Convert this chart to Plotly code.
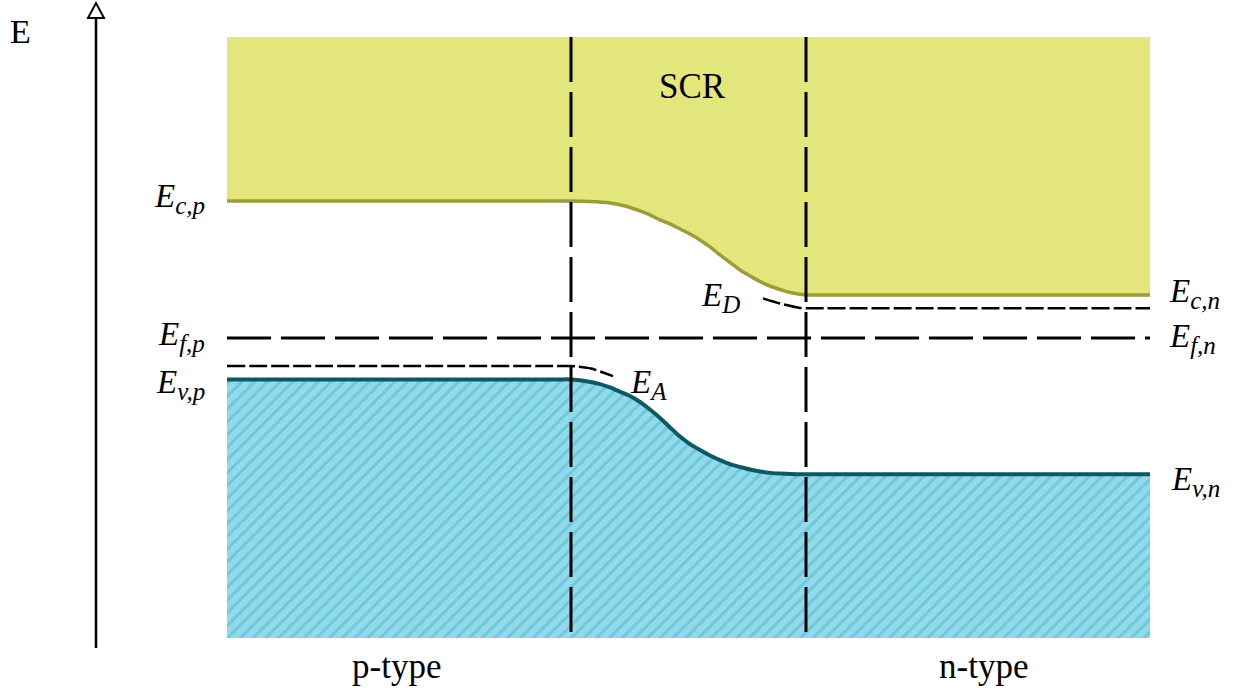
import plotly.graph_objects as go

# ---------------------------------------------------------------
# p-n junction band diagram
# position in nm from the p-side edge, energy in eV relative to E_F
# ---------------------------------------------------------------
x_p_edge, x_scr_p, x_scr_n, x_n_edge = 0.0, 344.0, 579.0, 923.0
E_top, E_bottom = 1.881, -1.875
E_fermi = 0.0

# conduction band edge (flat p side, bending through the SCR, flat n side)
ec_x = [0, 330, 344, 363, 383, 398, 413, 423, 433, 443, 453, 463, 473, 483, 493,
        503, 513, 523, 533, 543, 553, 563, 579, 593, 923]
ec_E = [0.856, 0.856, 0.856, 0.853, 0.844, 0.825, 0.794, 0.769, 0.738, 0.713, 0.681,
        0.650, 0.613, 0.569, 0.519, 0.472, 0.425, 0.388, 0.353, 0.325, 0.303,
        0.284, 0.269, 0.269, 0.269]

# valence band edge
ev_x = [0, 330, 344, 358, 373, 383, 393, 403, 413, 423, 433, 443, 453, 463, 473,
        483, 493, 503, 513, 523, 533, 543, 553, 563, 579, 593, 923]
ev_E = [-0.259, -0.259, -0.259, -0.269, -0.288, -0.309, -0.336, -0.363, -0.400, -0.447,
        -0.500, -0.559, -0.616, -0.663, -0.700, -0.734, -0.763, -0.788, -0.806,
        -0.822, -0.834, -0.843, -0.847, -0.850, -0.852, -0.852, -0.852]

# acceptor level (p side) and donor level (n side)
ea_x = [0, 330, 344, 364, 386]
ea_E = [-0.175, -0.175, -0.175, -0.191, -0.238]
ed_x = [536, 553, 573, 579, 593, 923]
ed_E = [0.248, 0.216, 0.188, 0.186, 0.186, 0.186]

# ---------------------------------------------------------------
W, H = 1258, 691
X0_PX = 227.0                 # page px of x = 0 (1 px per nm)
Y0_PX, Y_SCALE = 338.0, 160.0  # page px of E = 0, px per eV


def fx(px):
    return px / W


def fy(py):
    return 1 - py / H


YELLOW = "#e3e67b"
OLIVE = "#9d9c3b"
BLUE = "#94d8eb"
HATCH = "#3bbcc6"
TEAL = "#0d5963"
FONT = "Liberation Serif"

fig = go.Figure()

# conduction band region (filled up to the top of the diagram)
fig.add_trace(go.Scatter(x=[x_p_edge, x_n_edge], y=[E_top, E_top], mode="lines",
                         line=dict(width=0, color=YELLOW), hoverinfo="skip"))
fig.add_trace(go.Scatter(x=ec_x, y=ec_E, mode="lines", fill="tonexty",
                         fillcolor=YELLOW,
                         line=dict(color=OLIVE, width=3.5, shape="spline", smoothing=0.8),
                         hoverinfo="skip"))

# valence band region (hatched, filled down to the bottom)
fig.add_trace(go.Scatter(x=[x_p_edge, x_n_edge], y=[E_bottom, E_bottom], mode="lines",
                         line=dict(width=0, color=BLUE), hoverinfo="skip"))
fig.add_trace(go.Scatter(x=ev_x, y=ev_E, mode="lines", fill="tonexty",
                         fillcolor=BLUE,
                         fillpattern=dict(shape="/", size=9, solidity=0.32,
                                          fgcolor=HATCH, bgcolor=BLUE),
                         line=dict(color=TEAL, width=4, shape="spline", smoothing=0.8),
                         hoverinfo="skip"))

# Fermi level
fig.add_trace(go.Scatter(x=[x_p_edge, x_n_edge], y=[E_fermi, E_fermi], mode="lines",
                         line=dict(color="black", width=3, dash="44px,10px"),
                         hoverinfo="skip"))

# impurity levels
fig.add_trace(go.Scatter(x=ea_x, y=ea_E, mode="lines",
                         line=dict(color="black", width=2.5, dash="18px,4px",
                                   shape="spline", smoothing=0.6),
                         hoverinfo="skip"))
fig.add_trace(go.Scatter(x=ed_x, y=ed_E, mode="lines",
                         line=dict(color="black", width=2.5, dash="18px,4px",
                                   shape="spline", smoothing=0.6),
                         hoverinfo="skip"))

# space charge region boundaries
for xb in (x_scr_p, x_scr_n):
    fig.add_trace(go.Scatter(x=[xb, xb], y=[E_top, E_bottom], mode="lines",
                             line=dict(color="black", width=3, dash="45px,10px"),
                             hoverinfo="skip"))

# energy axis with open arrowhead
fig.add_shape(type="line", xref="paper", yref="paper",
              x0=fx(96), x1=fx(96), y0=fy(648), y1=fy(17),
              line=dict(color="black", width=2.5))
fig.add_shape(type="path", xref="paper", yref="paper",
              path=f"M {fx(88)} {fy(18)} L {fx(104)} {fy(18)} L {fx(96)} {fy(3)} Z",
              fillcolor="white", line=dict(color="black", width=2))


def label(text, px, py, xanchor="center", size=33):
    fig.add_annotation(text=text, x=fx(px), y=fy(py), xref="paper", yref="paper",
                       xanchor=xanchor, yanchor="middle", showarrow=False,
                       font=dict(family=FONT, size=size, color="black"))


def level(sym, sub):
    return f'<i>{sym}</i><sub><span style="font-size:25px"><i>{sub}</i></span></sub>'


label("E", 20, 31, size=34)
label("SCR", 692, 86, size=35)
label("p-type", 396, 666, size=35)
label("n-type", 983, 666, size=35)

label(level("E", "c,p"), 207, 199, "right")
label(level("E", "f,p"), 207, 336, "right")
label(level("E", "v,p"), 207, 384, "right")
label(level("E", "c,n"), 1167, 294, "left")
label(level("E", "f,n"), 1167, 339, "left")
label(level("E", "v,n"), 1169, 481, "left")
label(level("E", "D"), 699, 297, "left")
label(level("E", "A"), 628, 384, "left")

fig.update_layout(
    width=W, height=H,
    margin=dict(l=0, r=0, t=0, b=0),
    paper_bgcolor="white", plot_bgcolor="white",
    showlegend=False,
    xaxis=dict(range=[0 - X0_PX, W - X0_PX], visible=False, fixedrange=True),
    yaxis=dict(range=[(Y0_PX - H) / Y_SCALE, Y0_PX / Y_SCALE],
               visible=False, fixedrange=True),
)

fig.write_html("out.html")
